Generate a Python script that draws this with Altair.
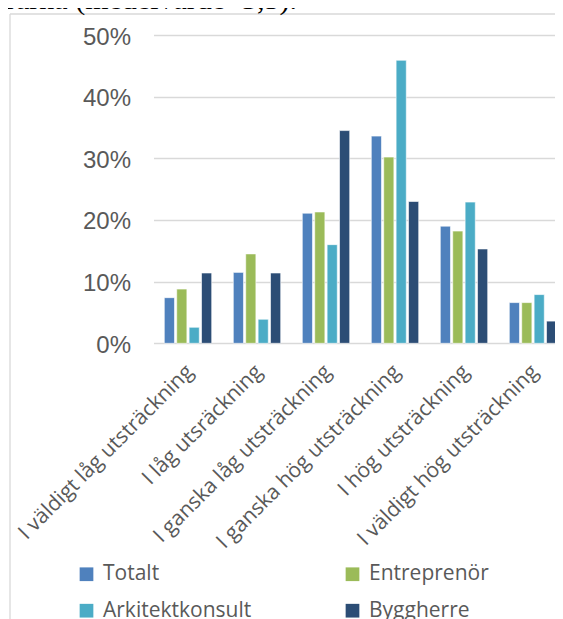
import altair as alt
import pandas as pd

categories = ["I väldigt låg utsträckning", "I låg utsräckning", "I ganska låg utsträckning",
              "I ganska hög utsträckning", "I hög utsträckning", "I väldigt hög utsträckning"]
series = ["Totalt", "Entreprenör", "Arkitektkonsult", "Byggherre"]
totalt = [7.4, 11.5, 21.1, 33.6, 19.0, 6.6]
entreprenor = [8.8, 14.5, 21.3, 30.2, 18.2, 6.6]
arkitekt = [2.6, 3.9, 16.0, 45.9, 22.9, 7.9]
byggherre = [11.4, 11.4, 34.5, 23.0, 15.3, 3.6]
colors = {"Totalt": "#4F81BD", "Entreprenör": "#9BBB59",
          "Arkitektkonsult": "#4BACC6", "Byggherre": "#2C4D75"}
legend_order = ["Totalt", "Arkitektkonsult", "Entreprenör", "Byggherre"]
y_ticks = [0, 10, 20, 30, 40, 50]
top_text = "rarna (medelvärde=3,5)."

rows = []
for s, vals in zip(series, [totalt, entreprenor, arkitekt, byggherre]):
    for c, v in zip(categories, vals):
        rows.append({"kategori": c, "grupp": s, "andel": v})
df = pd.DataFrame(rows)

W = 401.5
H = 308.3

bars = alt.Chart(df).mark_bar(stroke="white", strokeWidth=0.6).encode(
    x=alt.X("kategori:N", sort=categories, title=None,
            scale=alt.Scale(paddingInner=0.313, paddingOuter=0.1565, range=[0, 414]),
            axis=alt.Axis(labelAngle=315, labelAlign="right", labelBaseline="middle",
                          labelFont="Open Sans", labelFontSize=21, labelColor="#595959",
                          labelPadding=25, labelOffset=2, ticks=False, domain=False,
                          grid=False, labelLimit=400)),
    xOffset=alt.XOffset("grupp:N", sort=series,
                        scale=alt.Scale(paddingInner=0.18, paddingOuter=0)),
    y=alt.Y("andel:Q", title=None,
            scale=alt.Scale(domain=[0, 50], nice=False),
            axis=alt.Axis(values=y_ticks, labelExpr="datum.value + '%'",
                          labelFont="Liberation Sans", labelFontSize=24, labelColor="#595959",
                          labelPadding=23, labelOffset=2, ticks=False, domain=False,
                          grid=True, gridColor="#D9D9D9", gridWidth=1.3)),
    color=alt.Color("grupp:N", sort=legend_order, title=None,
                    scale=alt.Scale(domain=legend_order,
                                    range=[colors[s] for s in legend_order]),
                    legend=alt.Legend(orient="none", legendX=-77.5, legendY=528.5,
                                      columns=2, columnPadding=90, rowPadding=14.7,
                                      symbolType="square", symbolSize=188,
                                      symbolStrokeWidth=0, labelOffset=6,
                                      labelFont="Open Sans", labelFontSize=21,
                                      labelColor="#595959", labelLimit=400, padding=0)),
)

one = pd.DataFrame({"a": [0]})
frame_left = alt.Chart(one).mark_rule(color="#D9D9D9", strokeWidth=1.3).encode(
    x=alt.value(-143.5), y=alt.value(-21), y2=alt.value(620)
)
frame_top = alt.Chart(one).mark_rule(color="#D9D9D9", strokeWidth=1.3).encode(
    x=alt.value(-143.5), x2=alt.value(430), y=alt.value(-21)
)

title_txt = alt.Chart(pd.DataFrame({"t": [top_text]})).mark_text(
    font="Liberation Serif", fontSize=30, align="right", baseline="alphabetic", color="#000000"
).encode(
    text="t:N", x=alt.value(143.5), y=alt.value(-26.5)
)

chart = alt.layer(frame_left, frame_top, bars, title_txt).properties(
    width=W, height=H,
    autosize=alt.AutoSizeParams(type="none"),
    padding={"left": 145.5, "top": 27, "right": 0, "bottom": 275.7},
).configure_view(stroke=None)

chart.save("out.html", embed_options={"renderer": "svg", "actions": False})
